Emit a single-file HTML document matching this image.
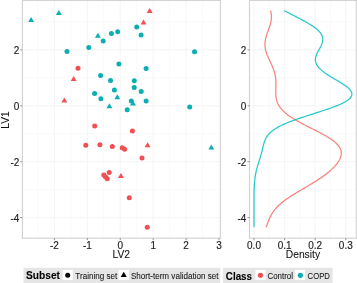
<!DOCTYPE html>
<html><head><meta charset="utf-8"><style>
html,body{margin:0;padding:0;background:#fff;width:357px;height:283px;overflow:hidden;}
svg{display:block;font-family:"Liberation Sans", sans-serif;filter:blur(0.35px);}

.tk{font-size:10.0px;fill:#222222;stroke:#222222;stroke-width:0.15px;}
.ti{font-size:10.3px;fill:#111;stroke:#111;stroke-width:0.06px;}
.lt{font-weight:bold;fill:#000;stroke:#000;stroke-width:0.08px;}
.lg{font-size:8.1px;fill:#1a1a1a;stroke:#1a1a1a;stroke-width:0.08px;}
</style></head><body>
<svg width="357" height="283" viewBox="0 0 357 283" font-family="Liberation Sans, sans-serif"><line x1="37.95" y1="0.40" x2="37.95" y2="238.20" stroke="#FAFAFA" stroke-width="1.0"/>
<line x1="70.87" y1="0.40" x2="70.87" y2="238.20" stroke="#FAFAFA" stroke-width="1.0"/>
<line x1="103.79" y1="0.40" x2="103.79" y2="238.20" stroke="#FAFAFA" stroke-width="1.0"/>
<line x1="136.71" y1="0.40" x2="136.71" y2="238.20" stroke="#FAFAFA" stroke-width="1.0"/>
<line x1="169.63" y1="0.40" x2="169.63" y2="238.20" stroke="#FAFAFA" stroke-width="1.0"/>
<line x1="202.55" y1="0.40" x2="202.55" y2="238.20" stroke="#FAFAFA" stroke-width="1.0"/>
<line x1="22.40" y1="21.95" x2="220.40" y2="21.95" stroke="#FAFAFA" stroke-width="1.0"/>
<line x1="22.40" y1="77.85" x2="220.40" y2="77.85" stroke="#FAFAFA" stroke-width="1.0"/>
<line x1="22.40" y1="133.75" x2="220.40" y2="133.75" stroke="#FAFAFA" stroke-width="1.0"/>
<line x1="22.40" y1="189.65" x2="220.40" y2="189.65" stroke="#FAFAFA" stroke-width="1.0"/>
<line x1="54.41" y1="0.40" x2="54.41" y2="238.20" stroke="#F6F6F6" stroke-width="1.2"/>
<line x1="87.33" y1="0.40" x2="87.33" y2="238.20" stroke="#F6F6F6" stroke-width="1.2"/>
<line x1="120.25" y1="0.40" x2="120.25" y2="238.20" stroke="#F6F6F6" stroke-width="1.2"/>
<line x1="153.17" y1="0.40" x2="153.17" y2="238.20" stroke="#F6F6F6" stroke-width="1.2"/>
<line x1="186.09" y1="0.40" x2="186.09" y2="238.20" stroke="#F6F6F6" stroke-width="1.2"/>
<line x1="22.40" y1="49.90" x2="220.40" y2="49.90" stroke="#F6F6F6" stroke-width="1.2"/>
<line x1="22.40" y1="105.80" x2="220.40" y2="105.80" stroke="#F6F6F6" stroke-width="1.2"/>
<line x1="22.40" y1="161.70" x2="220.40" y2="161.70" stroke="#F6F6F6" stroke-width="1.2"/>
<line x1="22.40" y1="217.60" x2="220.40" y2="217.60" stroke="#F6F6F6" stroke-width="1.2"/>
<line x1="269.30" y1="0.40" x2="269.30" y2="238.20" stroke="#FAFAFA" stroke-width="1.0"/>
<line x1="299.90" y1="0.40" x2="299.90" y2="238.20" stroke="#FAFAFA" stroke-width="1.0"/>
<line x1="330.50" y1="0.40" x2="330.50" y2="238.20" stroke="#FAFAFA" stroke-width="1.0"/>
<line x1="249.50" y1="21.95" x2="356.30" y2="21.95" stroke="#FAFAFA" stroke-width="1.0"/>
<line x1="249.50" y1="77.85" x2="356.30" y2="77.85" stroke="#FAFAFA" stroke-width="1.0"/>
<line x1="249.50" y1="133.75" x2="356.30" y2="133.75" stroke="#FAFAFA" stroke-width="1.0"/>
<line x1="249.50" y1="189.65" x2="356.30" y2="189.65" stroke="#FAFAFA" stroke-width="1.0"/>
<line x1="254.00" y1="0.40" x2="254.00" y2="238.20" stroke="#F6F6F6" stroke-width="1.2"/>
<line x1="284.60" y1="0.40" x2="284.60" y2="238.20" stroke="#F6F6F6" stroke-width="1.2"/>
<line x1="315.20" y1="0.40" x2="315.20" y2="238.20" stroke="#F6F6F6" stroke-width="1.2"/>
<line x1="345.80" y1="0.40" x2="345.80" y2="238.20" stroke="#F6F6F6" stroke-width="1.2"/>
<line x1="249.50" y1="49.90" x2="356.30" y2="49.90" stroke="#F6F6F6" stroke-width="1.2"/>
<line x1="249.50" y1="105.80" x2="356.30" y2="105.80" stroke="#F6F6F6" stroke-width="1.2"/>
<line x1="249.50" y1="161.70" x2="356.30" y2="161.70" stroke="#F6F6F6" stroke-width="1.2"/>
<line x1="249.50" y1="217.60" x2="356.30" y2="217.60" stroke="#F6F6F6" stroke-width="1.2"/>
<circle cx="78.00" cy="68.20" r="2.50" fill="#F14F52"/>
<circle cx="94.70" cy="126.00" r="2.50" fill="#F14F52"/>
<circle cx="132.40" cy="130.90" r="2.50" fill="#F14F52"/>
<circle cx="85.80" cy="145.20" r="2.50" fill="#F14F52"/>
<circle cx="99.90" cy="144.70" r="2.50" fill="#F14F52"/>
<circle cx="112.30" cy="146.40" r="2.50" fill="#F14F52"/>
<circle cx="122.20" cy="147.80" r="2.50" fill="#F14F52"/>
<circle cx="124.60" cy="149.30" r="2.50" fill="#F14F52"/>
<circle cx="142.00" cy="158.00" r="2.50" fill="#F14F52"/>
<circle cx="109.20" cy="172.60" r="2.50" fill="#F14F52"/>
<circle cx="103.80" cy="175.00" r="2.50" fill="#F14F52"/>
<circle cx="105.50" cy="177.00" r="2.50" fill="#F14F52"/>
<circle cx="107.30" cy="178.80" r="2.50" fill="#F14F52"/>
<circle cx="129.30" cy="197.80" r="2.50" fill="#F14F52"/>
<circle cx="147.30" cy="227.30" r="2.50" fill="#F14F52"/>
<polygon points="149.70,8.10 152.65,13.10 146.75,13.10" fill="#F14F52"/>
<polygon points="143.50,19.40 146.45,24.40 140.55,24.40" fill="#F14F52"/>
<polygon points="73.70,76.00 76.65,81.00 70.75,81.00" fill="#F14F52"/>
<polygon points="64.40,97.60 67.35,102.60 61.45,102.60" fill="#F14F52"/>
<polygon points="147.60,142.30 150.55,147.30 144.65,147.30" fill="#F14F52"/>
<polygon points="120.90,172.90 123.85,177.90 117.95,177.90" fill="#F14F52"/>
<circle cx="67.00" cy="51.60" r="2.50" fill="#0DAEB3"/>
<circle cx="88.80" cy="47.60" r="2.50" fill="#0DAEB3"/>
<circle cx="103.20" cy="41.10" r="2.50" fill="#0DAEB3"/>
<circle cx="111.40" cy="33.40" r="2.50" fill="#0DAEB3"/>
<circle cx="117.70" cy="31.70" r="2.50" fill="#0DAEB3"/>
<circle cx="136.70" cy="26.90" r="2.50" fill="#0DAEB3"/>
<circle cx="141.10" cy="35.10" r="2.50" fill="#0DAEB3"/>
<circle cx="194.50" cy="51.80" r="2.50" fill="#0DAEB3"/>
<circle cx="118.90" cy="63.90" r="2.50" fill="#0DAEB3"/>
<circle cx="100.60" cy="75.60" r="2.50" fill="#0DAEB3"/>
<circle cx="110.50" cy="80.40" r="2.50" fill="#0DAEB3"/>
<circle cx="134.30" cy="80.70" r="2.50" fill="#0DAEB3"/>
<circle cx="146.10" cy="68.60" r="2.50" fill="#0DAEB3"/>
<circle cx="114.40" cy="90.00" r="2.50" fill="#0DAEB3"/>
<circle cx="134.20" cy="87.50" r="2.50" fill="#0DAEB3"/>
<circle cx="141.20" cy="91.60" r="2.50" fill="#0DAEB3"/>
<circle cx="94.60" cy="93.50" r="2.50" fill="#0DAEB3"/>
<circle cx="100.90" cy="98.70" r="2.50" fill="#0DAEB3"/>
<circle cx="131.30" cy="101.00" r="2.50" fill="#0DAEB3"/>
<circle cx="146.10" cy="101.00" r="2.50" fill="#0DAEB3"/>
<circle cx="127.20" cy="109.80" r="2.50" fill="#0DAEB3"/>
<circle cx="189.70" cy="107.10" r="2.50" fill="#0DAEB3"/>
<polygon points="31.10,17.00 34.05,22.00 28.15,22.00" fill="#0DAEB3"/>
<polygon points="58.80,9.90 61.75,14.90 55.85,14.90" fill="#0DAEB3"/>
<polygon points="97.90,32.70 100.85,37.70 94.95,37.70" fill="#0DAEB3"/>
<polygon points="117.30,94.20 120.25,99.20 114.35,99.20" fill="#0DAEB3"/>
<polygon points="109.40,103.30 112.35,108.30 106.45,108.30" fill="#0DAEB3"/>
<polygon points="133.00,100.40 135.95,105.40 130.05,105.40" fill="#0DAEB3"/>
<polygon points="211.30,144.40 214.25,149.40 208.35,149.40" fill="#0DAEB3"/>
<path d="M266.17,227.30 L266.54,226.21 L266.91,225.12 L267.29,224.03 L267.68,222.94 L268.08,221.86 L268.50,220.77 L268.94,219.68 L269.41,218.59 L269.91,217.50 L270.44,216.41 L271.02,215.32 L271.63,214.23 L272.30,213.14 L273.02,212.05 L273.80,210.97 L274.64,209.88 L275.54,208.79 L276.50,207.70 L277.54,206.61 L278.64,205.52 L279.82,204.43 L281.06,203.34 L282.37,202.25 L283.76,201.17 L285.21,200.08 L286.72,198.99 L288.29,197.90 L289.92,196.81 L291.60,195.72 L293.33,194.63 L295.09,193.54 L296.89,192.45 L298.71,191.36 L300.56,190.28 L302.42,189.19 L304.28,188.10 L306.14,187.01 L308.00,185.92 L309.84,184.83 L311.65,183.74 L313.44,182.65 L315.20,181.56 L316.92,180.48 L318.61,179.39 L320.24,178.30 L321.83,177.21 L323.37,176.12 L324.85,175.03 L326.28,173.94 L327.66,172.85 L328.98,171.76 L330.24,170.67 L331.44,169.59 L332.59,168.50 L333.68,167.41 L334.70,166.32 L335.67,165.23 L336.57,164.14 L337.41,163.05 L338.18,161.96 L338.87,160.87 L339.49,159.79 L340.03,158.70 L340.48,157.61 L340.85,156.52 L341.11,155.43 L341.28,154.34 L341.34,153.25 L341.29,152.16 L341.12,151.07 L340.83,149.98 L340.42,148.90 L339.88,147.81 L339.20,146.72 L338.40,145.63 L337.47,144.54 L336.40,143.45 L335.20,142.36 L333.88,141.27 L332.44,140.18 L330.89,139.10 L329.23,138.01 L327.47,136.92 L325.62,135.83 L323.69,134.74 L321.69,133.65 L319.64,132.56 L317.54,131.47 L315.40,130.38 L313.24,129.29 L311.08,128.21 L308.91,127.12 L306.77,126.03 L304.64,124.94 L302.56,123.85 L300.51,122.76 L298.53,121.67 L296.61,120.58 L294.75,119.49 L292.98,118.41 L291.29,117.32 L289.69,116.23 L288.17,115.14 L286.75,114.05 L285.43,112.96 L284.20,111.87 L283.07,110.78 L282.03,109.69 L281.09,108.61 L280.23,107.52 L279.47,106.43 L278.79,105.34 L278.20,104.25 L277.68,103.16 L277.23,102.07 L276.86,100.98 L276.55,99.89 L276.29,98.80 L276.09,97.72 L275.94,96.63 L275.83,95.54 L275.76,94.45 L275.72,93.36 L275.70,92.27 L275.71,91.18 L275.73,90.09 L275.76,89.00 L275.79,87.92 L275.83,86.83 L275.86,85.74 L275.89,84.65 L275.90,83.56 L275.89,82.47 L275.86,81.38 L275.81,80.29 L275.72,79.20 L275.61,78.11 L275.47,77.03 L275.30,75.94 L275.09,74.85 L274.84,73.76 L274.56,72.67 L274.25,71.58 L273.90,70.49 L273.52,69.40 L273.11,68.31 L272.68,67.23 L272.22,66.14 L271.74,65.05 L271.25,63.96 L270.74,62.87 L270.23,61.78 L269.72,60.69 L269.20,59.60 L268.70,58.51 L268.21,57.42 L267.74,56.34 L267.29,55.25 L266.87,54.16 L266.49,53.07 L266.14,51.98 L265.83,50.89 L265.56,49.80 L265.34,48.71 L265.17,47.62 L265.04,46.54 L264.97,45.45 L264.95,44.36 L264.98,43.27 L265.06,42.18 L265.18,41.09 L265.36,40.00 L265.57,38.91 L265.83,37.82 L266.12,36.73 L266.44,35.65 L266.79,34.56 L267.15,33.47 L267.54,32.38 L267.93,31.29 L268.33,30.20 L268.73,29.11 L269.12,28.02 L269.49,26.93 L269.85,25.85 L270.18,24.76 L270.48,23.67 L270.75,22.58 L270.98,21.49 L271.16,20.40 L271.30,19.31 L271.39,18.22 L271.43,17.13 L271.42,16.04 L271.36,14.96 L271.24,13.87 L271.07,12.78 L270.84,11.69 L270.57,10.60" fill="none" stroke="#F8766D" stroke-width="1.25" stroke-opacity="0.9" stroke-linejoin="round"/>
<path d="M254.00,227.30 L254.00,226.21 L254.00,225.12 L254.00,224.03 L254.00,222.94 L254.00,221.86 L254.00,220.77 L254.00,219.68 L254.00,218.59 L254.00,217.50 L254.00,216.41 L254.00,215.32 L254.00,214.23 L254.00,213.14 L254.00,212.05 L254.00,210.97 L254.00,209.88 L254.00,208.79 L254.00,207.70 L254.00,206.61 L254.01,205.52 L254.01,204.43 L254.01,203.34 L254.01,202.25 L254.02,201.17 L254.02,200.08 L254.03,198.99 L254.03,197.90 L254.04,196.81 L254.05,195.72 L254.06,194.63 L254.08,193.54 L254.10,192.45 L254.12,191.36 L254.15,190.28 L254.18,189.19 L254.21,188.10 L254.26,187.01 L254.31,185.92 L254.37,184.83 L254.44,183.74 L254.52,182.65 L254.61,181.56 L254.71,180.48 L254.83,179.39 L254.96,178.30 L255.10,177.21 L255.27,176.12 L255.44,175.03 L255.64,173.94 L255.85,172.85 L256.08,171.76 L256.33,170.67 L256.59,169.59 L256.87,168.50 L257.17,167.41 L257.47,166.32 L257.79,165.23 L258.12,164.14 L258.46,163.05 L258.80,161.96 L259.14,160.87 L259.49,159.79 L259.83,158.70 L260.16,157.61 L260.50,156.52 L260.82,155.43 L261.13,154.34 L261.43,153.25 L261.72,152.16 L261.99,151.07 L262.26,149.98 L262.52,148.90 L262.78,147.81 L263.04,146.72 L263.30,145.63 L263.58,144.54 L263.88,143.45 L264.21,142.36 L264.57,141.27 L264.99,140.18 L265.47,139.10 L266.02,138.01 L266.65,136.92 L267.38,135.83 L268.23,134.74 L269.19,133.65 L270.29,132.56 L271.53,131.47 L272.92,130.38 L274.48,129.29 L276.20,128.21 L278.10,127.12 L280.17,126.03 L282.42,124.94 L284.83,123.85 L287.42,122.76 L290.16,121.67 L293.05,120.58 L296.07,119.49 L299.22,118.41 L302.46,117.32 L305.79,116.23 L309.17,115.14 L312.58,114.05 L316.01,112.96 L319.41,111.87 L322.76,110.78 L326.04,109.69 L329.22,108.61 L332.27,107.52 L335.17,106.43 L337.88,105.34 L340.40,104.25 L342.71,103.16 L344.77,102.07 L346.59,100.98 L348.15,99.89 L349.43,98.80 L350.45,97.72 L351.19,96.63 L351.66,95.54 L351.87,94.45 L351.82,93.36 L351.51,92.27 L350.98,91.18 L350.22,90.09 L349.26,89.00 L348.12,87.92 L346.81,86.83 L345.37,85.74 L343.80,84.65 L342.13,83.56 L340.38,82.47 L338.58,81.38 L336.75,80.29 L334.90,79.20 L333.06,78.11 L331.24,77.03 L329.47,75.94 L327.75,74.85 L326.11,73.76 L324.56,72.67 L323.10,71.58 L321.75,70.49 L320.53,69.40 L319.42,68.31 L318.45,67.23 L317.61,66.14 L316.91,65.05 L316.34,63.96 L315.91,62.87 L315.62,61.78 L315.45,60.69 L315.40,59.60 L315.47,58.51 L315.65,57.42 L315.92,56.34 L316.29,55.25 L316.72,54.16 L317.22,53.07 L317.77,51.98 L318.35,50.89 L318.95,49.80 L319.56,48.71 L320.15,47.62 L320.72,46.54 L321.24,45.45 L321.71,44.36 L322.12,43.27 L322.43,42.18 L322.66,41.09 L322.77,40.00 L322.77,38.91 L322.65,37.82 L322.40,36.73 L322.01,35.65 L321.48,34.56 L320.80,33.47 L319.99,32.38 L319.03,31.29 L317.94,30.20 L316.71,29.11 L315.35,28.02 L313.87,26.93 L312.28,25.85 L310.59,24.76 L308.80,23.67 L306.93,22.58 L304.99,21.49 L302.99,20.40 L300.94,19.31 L298.86,18.22 L296.75,17.13 L294.63,16.04 L292.51,14.96 L290.40,13.87 L288.30,12.78 L286.24,11.69 L284.21,10.60" fill="none" stroke="#00BFC4" stroke-width="1.25" stroke-opacity="0.85" stroke-linejoin="round"/>
<rect x="22.40" y="0.40" width="198.00" height="237.80" fill="none" stroke="#D2D2D2" stroke-width="1.15"/>
<rect x="249.50" y="0.40" width="106.80" height="237.80" fill="none" stroke="#D2D2D2" stroke-width="1.15"/>
<line x1="54.41" y1="238.2" x2="54.41" y2="240.2" stroke="#888888" stroke-width="0.9"/>
<line x1="87.33" y1="238.2" x2="87.33" y2="240.2" stroke="#888888" stroke-width="0.9"/>
<line x1="120.25" y1="238.2" x2="120.25" y2="240.2" stroke="#888888" stroke-width="0.9"/>
<line x1="153.17" y1="238.2" x2="153.17" y2="240.2" stroke="#888888" stroke-width="0.9"/>
<line x1="186.09" y1="238.2" x2="186.09" y2="240.2" stroke="#888888" stroke-width="0.9"/>
<line x1="219.01" y1="238.2" x2="219.01" y2="240.2" stroke="#888888" stroke-width="0.9"/>
<line x1="254.00" y1="238.2" x2="254.00" y2="240.2" stroke="#888888" stroke-width="0.9"/>
<line x1="284.60" y1="238.2" x2="284.60" y2="240.2" stroke="#888888" stroke-width="0.9"/>
<line x1="315.20" y1="238.2" x2="315.20" y2="240.2" stroke="#888888" stroke-width="0.9"/>
<line x1="345.80" y1="238.2" x2="345.80" y2="240.2" stroke="#888888" stroke-width="0.9"/>
<line x1="20.2" y1="49.90" x2="22.2" y2="49.90" stroke="#888888" stroke-width="0.9"/>
<line x1="247.5" y1="49.90" x2="249.5" y2="49.90" stroke="#888888" stroke-width="0.9"/>
<line x1="20.2" y1="105.80" x2="22.2" y2="105.80" stroke="#888888" stroke-width="0.9"/>
<line x1="247.5" y1="105.80" x2="249.5" y2="105.80" stroke="#888888" stroke-width="0.9"/>
<line x1="20.2" y1="161.70" x2="22.2" y2="161.70" stroke="#888888" stroke-width="0.9"/>
<line x1="247.5" y1="161.70" x2="249.5" y2="161.70" stroke="#888888" stroke-width="0.9"/>
<line x1="20.2" y1="217.60" x2="22.2" y2="217.60" stroke="#888888" stroke-width="0.9"/>
<line x1="247.5" y1="217.60" x2="249.5" y2="217.60" stroke="#888888" stroke-width="0.9"/>
<text class="tk" transform="translate(54.41,248.80) scale(1,1.040)" text-anchor="middle">-2</text>
<text class="tk" transform="translate(87.33,248.80) scale(1,1.040)" text-anchor="middle">-1</text>
<text class="tk" transform="translate(120.25,248.80) scale(1,1.040)" text-anchor="middle">0</text>
<text class="tk" transform="translate(153.17,248.80) scale(1,1.040)" text-anchor="middle">1</text>
<text class="tk" transform="translate(186.09,248.80) scale(1,1.040)" text-anchor="middle">2</text>
<text class="tk" transform="translate(219.01,248.80) scale(1,1.040)" text-anchor="middle">3</text>
<text class="tk" transform="translate(254.00,248.80) scale(1,1.040)" text-anchor="middle">0.0</text>
<text class="tk" transform="translate(284.60,248.80) scale(1,1.040)" text-anchor="middle">0.1</text>
<text class="tk" transform="translate(315.20,248.80) scale(1,1.040)" text-anchor="middle">0.2</text>
<text class="tk" transform="translate(345.80,248.80) scale(1,1.040)" text-anchor="middle">0.3</text>
<text class="tk" transform="translate(19.40,54.20) scale(1,1.040)" text-anchor="end">2</text>
<text class="tk" transform="translate(246.40,54.20) scale(1,1.040)" text-anchor="end">2</text>
<text class="tk" transform="translate(19.40,110.10) scale(1,1.040)" text-anchor="end">0</text>
<text class="tk" transform="translate(246.40,110.10) scale(1,1.040)" text-anchor="end">0</text>
<text class="tk" transform="translate(19.40,166.00) scale(1,1.040)" text-anchor="end">-2</text>
<text class="tk" transform="translate(246.40,166.00) scale(1,1.040)" text-anchor="end">-2</text>
<text class="tk" transform="translate(19.40,221.90) scale(1,1.040)" text-anchor="end">-4</text>
<text class="tk" transform="translate(246.40,221.90) scale(1,1.040)" text-anchor="end">-4</text>
<text class="ti" transform="translate(121.30,258.30) scale(1,1.060)" text-anchor="middle">LV2</text>
<text class="ti" transform="translate(302.90,258.20) scale(1,1.060)" text-anchor="middle">Density</text>
<text class="ti" transform="translate(8.6,120.0) rotate(-90) scale(1,1.060)" text-anchor="middle" style="font-size:10.3px">LV1</text>
<rect x="23.5" y="267.8" width="196.8" height="15.2" fill="#E5E5E5"/>
<rect x="223" y="267.8" width="109.6" height="15.2" fill="#E5E5E5"/>
<text class="lt" transform="translate(26.00,279.30) scale(1,1.130)" style="font-size:10.2px">Subset</text>
<rect x="62.7" y="269.9" width="10" height="10.2" fill="#fff"/>
<circle cx="67.70" cy="275.15" r="2.50" fill="#000"/>
<text class="lg" transform="translate(75.30,278.55) scale(1,1.180)">Training set</text>
<rect x="118.7" y="269.9" width="10.1" height="10.2" fill="#fff"/>
<polygon points="123.75,271.85 126.80,276.95 120.70,276.95" fill="#000"/>
<text class="lg" transform="translate(130.90,278.55) scale(1,1.180)">Short-term validation set</text>
<text class="lt" transform="translate(225.80,279.50) scale(1,1.130)" style="font-size:9.85px">Class</text>
<rect x="255.4" y="269.9" width="10.2" height="10.2" fill="#fff"/>
<circle cx="260.45" cy="275.25" r="2.60" fill="#F14F52"/>
<text class="lg" transform="translate(267.50,278.55) scale(1,1.180)" style="font-size:7.9px">Control</text>
<rect x="294.8" y="269.9" width="10.1" height="10.2" fill="#fff"/>
<circle cx="300.35" cy="275.30" r="2.60" fill="#0DAEB3"/>
<text class="lg" transform="translate(307.60,278.55) scale(1,1.180)" style="font-size:7.7px">COPD</text></svg>
</body></html>
